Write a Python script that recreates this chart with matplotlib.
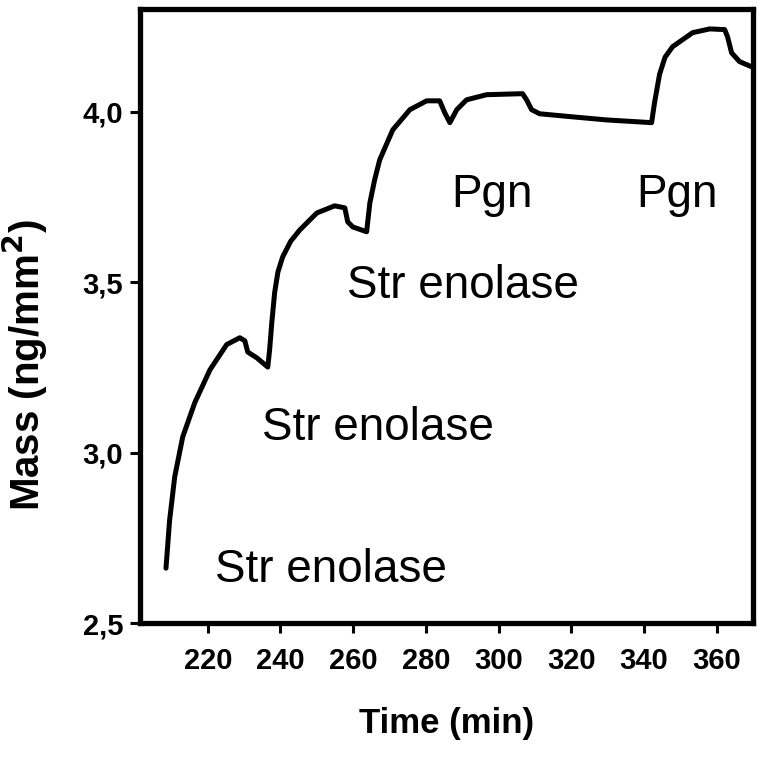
import matplotlib
matplotlib.use("Agg")
import matplotlib.pyplot as plt

# Trace (time in min, mass in ng/mm2)
time_min = [208.5, 209.5, 210.9, 213.1, 216.4, 220.6, 225.2, 228.8, 230.2, 231.0,
            233.5, 236.5, 237.0, 237.6, 238.4, 239.3, 240.6, 242.8, 245.3, 250.0,
            254.9, 257.7, 258.5, 259.9, 263.7, 264.6, 265.9, 267.3, 270.9, 275.6,
            280.2, 283.8, 285.2, 286.6, 288.5, 291.2, 296.7, 306.6, 307.7, 309.1,
            311.3, 320.4, 329.7, 342.1, 342.9, 344.3, 345.8, 347.9, 353.4, 358.1,
            362.2, 363.0, 364.1, 366.3, 369.6]
mass = [2.661, 2.802, 2.929, 3.046, 3.146, 3.243, 3.317, 3.337, 3.328, 3.295,
        3.278, 3.251, 3.300, 3.380, 3.470, 3.530, 3.574, 3.620, 3.653, 3.703,
        3.724, 3.718, 3.677, 3.662, 3.648, 3.733, 3.800, 3.859, 3.947, 4.006,
        4.032, 4.032, 3.997, 3.968, 4.006, 4.035, 4.050, 4.053, 4.035, 4.006,
        3.994, 3.985, 3.976, 3.968, 4.026, 4.110, 4.160, 4.191, 4.232, 4.243,
        4.241, 4.220, 4.173, 4.147, 4.132]

# Injection labels: text, x, y (baseline)
labels = ["Str enolase", "Str enolase", "Str enolase", "Pgn", "Pgn"]
label_x = [221.9, 234.9, 258.2, 287.1, 338.0]
label_y = [2.620, 3.037, 3.454, 3.721, 3.721]

x_ticks = [220, 240, 260, 280, 300, 320, 340, 360]
y_ticks = [2.5, 3.0, 3.5, 4.0]
y_ticklabels = ["2,5", "3,0", "3,5", "4,0"]

plt.rcParams['font.family'] = ['Liberation Sans', 'DejaVu Sans']

fig = plt.figure(figsize=(7.64, 7.58), dpi=100)
ax = fig.add_axes([0.183, 0.178, 0.8026, 0.8095])

ax.plot(time_min, mass, color='black', lw=3.6, solid_capstyle='round',
        solid_joinstyle='round')

for txt, lx, ly in zip(labels, label_x, label_y):
    ax.text(lx, ly, txt, fontsize=33, ha='left', va='baseline')

ax.set_xlim(201.3, 370)
ax.set_ylim(2.5, 4.30)
ax.set_xticks(x_ticks)
ax.set_yticks(y_ticks)
ax.set_yticklabels(y_ticklabels)

for s in ax.spines.values():
    s.set_linewidth(3.8)

ax.tick_params(axis='both', direction='out', length=7, width=2.2,
               labelsize=21)
ax.tick_params(axis='x', pad=10)
ax.tick_params(axis='y', pad=5)
for lbl in ax.get_xticklabels() + ax.get_yticklabels():
    lbl.set_fontweight('bold')

ax.set_xlabel("Time (min)", fontsize=25, fontweight='bold')
ax.set_ylabel("Mass (ng/mm$^\\mathbf{2}$)", fontsize=29, fontweight='bold')
ax.xaxis.set_label_coords(0.5, -0.137)
ax.yaxis.set_label_coords(-0.147, 0.42)

fig.savefig("out.png", dpi=100)
